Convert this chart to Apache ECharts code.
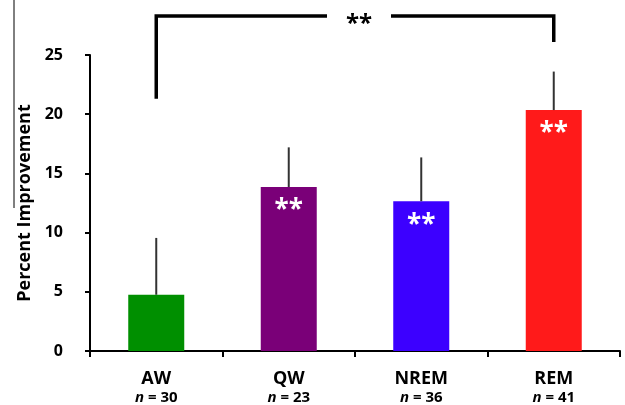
<!DOCTYPE html>
<html><head><meta charset="utf-8">
<script src="https://cdn.jsdelivr.net/npm/echarts@6/dist/echarts.min.js"></script>
<style>html,body{margin:0;padding:0;background:#fff}#c{width:625px;height:405px}</style>
</head><body><div id="c"></div>
<script>
const categories = ['AW', 'QW', 'NREM', 'REM'];
const nLabels = ['30', '23', '36', '41'];
const values = [4.75, 13.85, 12.65, 20.35];
const errorTops = [9.55, 17.2, 16.35, 23.6];
const sigMarks = ['', '**', '**', '**'];
const barColors = ['#008f00', '#7a0078', '#3c00ff', '#ff1a1a'];
const yTicks = [0, 5, 10, 15, 20, 25];
// comparison bracket: AW vs REM
const bracket = { from: 0, to: 3, top: 28.3, leftBottom: 21.3, rightBottom: 26.1, text: '**' };

const FONT = '"Open Sans", "Liberation Sans", sans-serif';
const chart = echarts.init(document.getElementById('c'), null, {renderer: 'canvas'});
chart.setOption({
  animation: false,
  grid: {left: 90, right: 5, top: 55, bottom: 52},
  xAxis: {
    type: 'category', data: categories,
    axisLine: {lineStyle: {color: '#000', width: 2}},
    axisTick: {show: true, length: 6, lineStyle: {color: '#000', width: 2}},
    axisLabel: {
      margin: 18, interval: 0,
      formatter: (v, i) => '{a|' + v + '}\n{n|n}{b| = ' + nLabels[i] + '}',
      rich: {
        a: {fontFamily: FONT, fontWeight: 'bold', fontSize: 18, color: '#000', lineHeight: 20},
        n: {fontFamily: FONT, fontWeight: 'bold', fontStyle: 'italic', fontSize: 15, color: '#000', lineHeight: 17},
        b: {fontFamily: FONT, fontWeight: 'bold', fontSize: 15, color: '#000', lineHeight: 17}
      }
    }
  },
  yAxis: {
    type: 'value', min: 0, max: 25, interval: 5,
    name: 'Percent Improvement', nameLocation: 'middle', nameGap: 56,
    nameTextStyle: {fontFamily: FONT, fontWeight: 'bold', fontSize: 18, color: '#000'},
    splitLine: {show: false},
    axisLine: {show: true, lineStyle: {color: '#000', width: 2}},
    axisTick: {show: true, length: 5, lineStyle: {color: '#000', width: 2}},
    axisLabel: {margin: 27, fontFamily: FONT, fontWeight: 'bold', fontSize: 16, color: '#000',
      formatter: v => yTicks.includes(v) ? String(v) : ''}
  },
  series: [
    {
      type: 'bar', barWidth: 56,
      data: values.map((v, i) => ({value: v, itemStyle: {color: barColors[i]},
        label: {show: sigMarks[i] !== '', formatter: sigMarks[i]}})),
      label: {position: 'insideTop', distance: 11, color: '#fff', fontFamily: FONT, fontWeight: 'bold', fontSize: 26}
    },
    {
      type: 'custom', z: 5,
      data: errorTops.map((e, i) => [i, values[i], e]),
      renderItem: (params, api) => {
        const p0 = api.coord([api.value(0), api.value(1)]);
        const p1 = api.coord([api.value(0), api.value(2)]);
        return {type: 'line', shape: {x1: p0[0], y1: p0[1], x2: p1[0], y2: p1[1]},
          style: {stroke: '#333', lineWidth: 2}};
      }
    },
    {
      type: 'custom', clip: false, z: 6,
      data: [[bracket.from, bracket.to]],
      renderItem: (params, api) => {
        const l = api.coord([bracket.from, bracket.leftBottom]);
        const lt = api.coord([bracket.from, bracket.top]);
        const r = api.coord([bracket.to, bracket.rightBottom]);
        const rt = api.coord([bracket.to, bracket.top]);
        const midX = (lt[0] + rt[0]) / 2 + 4;
        const gap = 32;
        const st = {stroke: '#000', lineWidth: 3.5, fill: null};
        return {type: 'group', children: [
          {type: 'polyline', shape: {points: [[l[0], l[1]], [lt[0], lt[1]], [midX - gap, lt[1]]]}, style: st},
          {type: 'polyline', shape: {points: [[midX + gap, rt[1]], [rt[0], rt[1]], [r[0], r[1]]]}, style: st},
          {type: 'text', x: midX, y: lt[1] + 8, style: {text: bracket.text, fill: '#000',
            font: 'bold 24px ' + FONT, align: 'center', verticalAlign: 'middle'}}
        ]};
      }
    }
  ],
  graphic: [
    {type: 'line', shape: {x1: 14, y1: 0, x2: 14, y2: 208}, style: {stroke: '#000', lineWidth: 1}}
  ]
});
</script></body></html>
